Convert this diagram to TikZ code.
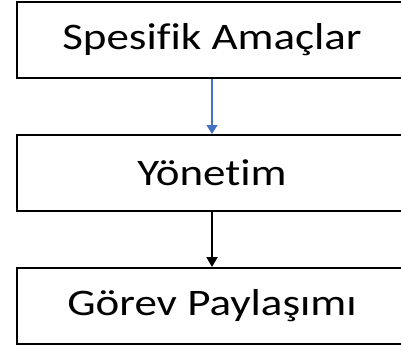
\documentclass[tikz,border=0pt]{standalone}
\usepackage{fontspec}
\setmainfont{Carlito}
\newfontfamily\kutufont[FakeStretch=1.2,Ligatures=NoCommon]{Carlito}
\usetikzlibrary{arrows.meta,positioning}
\definecolor{okmavi}{RGB}{68,114,196}
\tikzset{kutu/.style={draw=black,line width=2pt,minimum width=390pt,minimum height=76pt,
    inner sep=0pt,font=\kutufont\fontsize{37.5}{44}\selectfont}}

\begin{document}
\begin{tikzpicture}[x=1pt,y=1pt,node distance=133pt,on grid]
  \useasboundingbox (0,0) rectangle (401,-354);
  \clip (0,0) rectangle (401,-354);
  \node[kutu]	(amac)   at (212,-40)		{Spesifik Amaçlar};
  \node[kutu]	(yonetim) [below of=amac]	{Yönetim};
  \node[kutu]	(gorev)   [below of=yonetim]	{Görev Paylaşımı};

 \draw[okmavi,line width=1.2pt,-{Triangle[width=11pt,length=9pt]}] (amac) -- (yonetim);
 \draw[black,line width=2pt,-{Triangle[width=11pt,length=10pt]}] (yonetim) -- (gorev);
\end{tikzpicture}
\end{document}
